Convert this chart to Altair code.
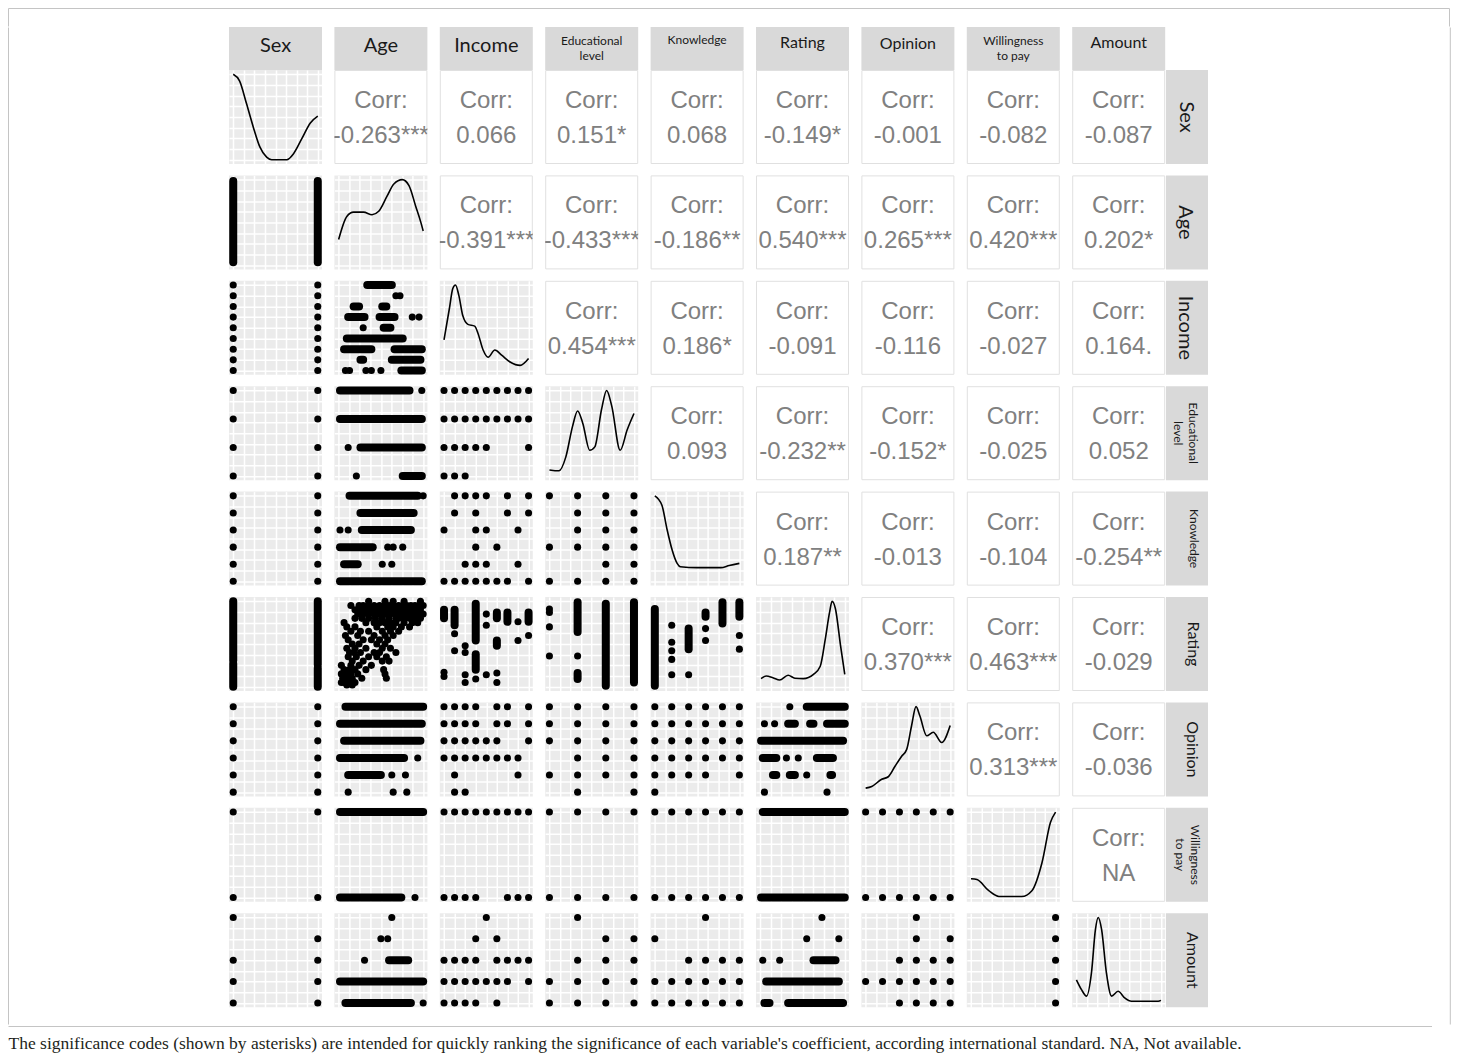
import altair as alt
import pandas as pd

# ---------------- data ----------------
VARS = ["Sex", "Age", "Income", "Educational level", "Knowledge",
        "Rating", "Opinion", "Willingness to pay", "Amount"]
RANGES = {"Sex": (1, 2), "Age": (18, 80), "Income": (1, 9), "Educational level": (1, 4),
          "Knowledge": (1, 6), "Rating": (0, 100), "Opinion": (1, 6),
          "Willingness to pay": (0, 1), "Amount": (1, 5)}

STRIP_LABELS = ["Sex", "Age", "Income", "Educational\nlevel", "Knowledge",
                "Rating", "Opinion", "Willingness\nto pay", "Amount"]
STRIP_SIZES = [20, 20, 20, 12, 12, 16, 16, 12, 16]

CORR_VALUES = [
    ["-0.263***", "0.066", "0.151*", "0.068", "-0.149*", "-0.001", "-0.082", "-0.087"],
    ["-0.391***", "-0.433***", "-0.186**", "0.540***", "0.265***", "0.420***", "0.202*"],
    ["0.454***", "0.186*", "-0.091", "-0.116", "-0.027", "0.164."],
    ["0.093", "-0.232**", "-0.152*", "-0.025", "0.052"],
    ["0.187**", "-0.013", "-0.104", "-0.254**"],
    ["0.370***", "0.463***", "-0.029"],
    ["0.313***", "-0.036"],
    ["NA"],
]

# density curves (x in variable units, y relative to the maximum)
DENS_X = {
    "Sex": [1.0, 1.076, 1.156, 1.235, 1.315, 1.395, 1.455, 1.55, 1.634, 1.713, 1.813, 1.912, 2.0],
    "Age": [18, 24, 28.9, 36.3, 42.5, 47.4, 53.6, 58.5, 64.7, 69.6, 74.5, 78.3, 80],
    "Income": [1, 1.5, 1.83, 2.08, 2.4, 2.78, 3.26, 3.9, 4.2, 4.7, 5.17, 5.81, 6.45, 7.25, 8.2, 9.0],
    "Educational level": [1.0, 1.34, 1.58, 1.82, 2.0, 2.18, 2.43, 2.61, 2.85, 3.03, 3.21, 3.51, 3.76, 4.0],
    "Knowledge": [1.0, 1.42, 1.72, 2.02, 2.32, 2.51, 3.5, 4.5, 4.9, 5.4, 6.0],
    "Rating": [1, 7, 15, 23, 33, 41, 51, 63, 71, 77, 82, 85, 89, 95, 100],
    "Opinion": [1, 1.36, 1.95, 2.34, 2.73, 3.13, 3.43, 3.72, 3.98, 4.21, 4.61, 5.0, 5.5, 6.0],
    "Willingness to pay": [0, 0.07, 0.21, 0.33, 0.60, 0.72, 0.84, 0.94, 1.0],
    "Amount": [1, 1.24, 1.48, 1.71, 1.9, 2.03, 2.19, 2.42, 2.66, 2.97, 3.29, 3.6, 4.39, 4.87, 5.0],
}
DENS_Y = {
    "Sex": [1.0, 0.92, 0.66, 0.39, 0.15, 0.03, 0.0, 0.0, 0.0, 0.07, 0.25, 0.43, 0.51],
    "Age": [0.30, 0.57, 0.62, 0.62, 0.59, 0.63, 0.81, 0.95, 1.0, 0.93, 0.69, 0.50, 0.40],
    "Income": [0.36, 0.72, 0.96, 1.0, 0.88, 0.64, 0.54, 0.52, 0.44, 0.24, 0.155, 0.24, 0.18, 0.10, 0.06, 0.14],
    "Educational level": [0.07, 0.06, 0.22, 0.58, 0.76, 0.62, 0.30, 0.34, 0.78, 1.0, 0.82, 0.30, 0.54, 0.73],
    "Knowledge": [1.0, 0.89, 0.61, 0.37, 0.21, 0.17, 0.16, 0.16, 0.16, 0.185, 0.21],
    "Rating": [0.095, 0.125, 0.106, 0.078, 0.134, 0.10, 0.095, 0.145, 0.24, 0.56, 0.87, 1.0, 0.91, 0.48, 0.145],
    "Opinion": [0.047, 0.066, 0.15, 0.18, 0.30, 0.42, 0.50, 0.78, 1.0, 0.89, 0.66, 0.70, 0.58, 0.78],
    "Willingness to pay": [0.22, 0.21, 0.08, 0.012, 0.012, 0.08, 0.41, 0.88, 1.0],
    "Amount": [0.27, 0.155, 0.08, 0.35, 0.86, 1.0, 0.86, 0.35, 0.08, 0.136, 0.058, 0.02, 0.02, 0.02, 0.03],
}

ALL9 = [1, 2, 3, 4, 5, 6, 7, 8, 9]
ALL6 = [1, 2, 3, 4, 5, 6]
ALL4 = [1, 2, 3, 4]
BOTH = [1, 2]

# horizontal rows: (row variable, column variable) -> {y level: [x value or [x from, x to]]}
LOWER_H = {
    ("Income", "Sex"): {k: BOTH for k in ALL9},
    ("Income", "Age"): {9: [[39, 57]], 8: [60, 63], 7: [[29, 33], [50, 53]],
                        6: [[25, 37], [48, 59], 72, 77], 5: [36, [51, 56]], 4: [[24, 65]],
                        3: [[22, 42], [59, 79]], 2: [[34, 36], [57, 78]],
                        1: [23, 26, 38, 42, 49, [64, 79]]},
    ("Educational level", "Sex"): {k: BOTH for k in ALL4},
    ("Educational level", "Age"): {4: [[19, 70], 79], 3: [[19, 79]], 2: [25, [34, 79]], 1: [31, [65, 79]]},
    ("Educational level", "Income"): {4: ALL9, 3: ALL9, 2: [1, 2, 3, 4, 5, 9], 1: [1, 2, 3]},
    ("Knowledge", "Sex"): {k: BOTH for k in ALL6},
    ("Knowledge", "Age"): {6: [[26, 76], 80], 5: [[34, 73]], 4: [19, 25, [35, 71]],
                           3: [[19, 43], 54, 58, 65], 2: [[22, 32], 50, 57], 1: [[19, 79]]},
    ("Knowledge", "Income"): {6: [2, 3, 4, 5, 7, 9], 5: [2, 4, 7, 9], 4: [1, 4, 5, 8], 3: [4, 6],
                              2: [3, 4, 5, 8], 1: [1, 2, 3, 4, 5, 6, 7, 9]},
    ("Knowledge", "Educational level"): {6: ALL4, 5: [2, 3, 4], 4: [2, 3, 4], 3: ALL4, 2: [3, 4], 1: ALL4},
    ("Opinion", "Sex"): {k: BOTH for k in ALL6},
    ("Opinion", "Age"): {6: [[23, 80]], 5: [[19, 79]], 4: [[22, 78]], 3: [[19, 66], 76],
                         2: [[25, 49], 57, 67], 1: [25, 58, 68]},
    ("Opinion", "Income"): {6: [1, 2, 3, 4, 6, 7, 9], 5: [1, 2, 3, 4, 6, 7, 9], 4: [1, 2, 3, 4, 5, 6, 9],
                            3: [1, 2, 3, 4, 5, 6, 7, 8], 2: [2, 8], 1: [2, 3]},
    ("Opinion", "Educational level"): {6: ALL4, 5: ALL4, 4: ALL4, 3: [2, 3, 4], 2: ALL4, 1: [2, 4]},
    ("Opinion", "Knowledge"): {6: ALL6, 5: ALL6, 4: ALL6, 3: ALL6, 2: [1, 2, 3, 4, 6], 1: [1]},
    ("Opinion", "Rating"): {6: [35, [55, 100]], 5: [5, 17, [33, 41], [59, 63], [79, 100]], 4: [[1, 98]],
                            3: [[3, 19], 31, 45, [67, 86]], 2: [[15, 19], [35, 41], 55, [83, 85]], 1: [5, 79]},
    ("Willingness to pay", "Sex"): {1: BOTH, 0: BOTH},
    ("Willingness to pay", "Age"): {1: [[19, 80]], 0: [[19, 64], 74]},
    ("Willingness to pay", "Income"): {1: ALL9, 0: [1, 2, 3, 4, 7, 8, 9]},
    ("Willingness to pay", "Educational level"): {1: ALL4, 0: ALL4},
    ("Willingness to pay", "Knowledge"): {1: ALL6, 0: ALL6},
    ("Willingness to pay", "Rating"): {1: [[3, 100]], 0: [[1, 100]]},
    ("Willingness to pay", "Opinion"): {1: ALL6, 0: ALL6},
    ("Amount", "Sex"): {5: [1], 4: [2], 3: BOTH, 2: BOTH, 1: BOTH},
    ("Amount", "Age"): {5: [57], 4: [49, 54], 3: [37, [55, 69]], 2: [[19, 80]], 1: [[23, 71], 80]},
    ("Amount", "Income"): {5: [5], 4: [4, 6], 3: [1, 2, 3, 4, 6, 7, 8, 9], 2: [1, 2, 3, 4, 5, 6, 7, 9],
                           1: [1, 2, 3, 4, 6]},
    ("Amount", "Educational level"): {5: [2], 4: [3, 4], 3: [2, 3, 4], 2: ALL4, 1: ALL4},
    ("Amount", "Knowledge"): {5: [4], 4: [1], 3: [3, 4, 5, 6], 2: ALL6, 1: ALL6},
    ("Amount", "Rating"): {5: [73], 4: [55, 93], 3: [3, 23, [63, 89]], 2: [[7, 93]], 1: [[5, 11], [33, 98]]},
    ("Amount", "Opinion"): {5: [4], 4: [4, 6], 3: [3, 4, 5, 6], 2: ALL6, 1: [3, 4, 5, 6]},
    ("Amount", "Willingness to pay"): {5: [1], 4: [1], 3: [1], 2: [1], 1: [1]},
}

# vertical columns: (row variable, column variable) -> {x level: [y value or [y from, y to]]}
LOWER_V = {
    ("Age", "Sex"): {1: [[20, 79]], 2: [[20, 79]]},
    ("Rating", "Sex"): {1: [[0, 27], [31, 100]], 2: [[0, 22], [26, 100]]},
    ("Rating", "Income"): {1: [[80, 90], 12, 17], 2: [[72, 90], 62, 42], 3: [48, 40, 14, 5],
                           4: [[54, 97], [20, 38], 9], 5: [85, 72, 14], 6: [[80, 87], [48, 54], 16, 5],
                           7: [[76, 87]], 8: [76, 54], 9: [[76, 87], 60]},
    ("Rating", "Educational level"): {1: [91, 87, 70, 36], 2: [[64, 99], 36, [9, 16]], 3: [[1, 97]], 4: [[5, 99]]},
    ("Rating", "Knowledge"): {1: [[1, 91]], 2: [72, 52, 42, 32, 14], 3: [[44, 68], 14],
                              4: [[82, 87], 68, 54], 5: [[74, 99]], 6: [[82, 99], 60, 44]},
}

# Rating (y) against Age (x): rating level -> ages
RATING_AGE = {
    100: [40, 52, 58, 66, 78],
    95: [27, 33, 36, 40, 44, 48, 52, 55, 58, 62, 65, 68, 71, 74, 77, 80],
    90: [30, 34, 38, 42, 46, 50, 54, 57, 60, 63, 66, 69, 72, 75, 78],
    85: [32, 36, 40, 44, 48, 52, 56, 60, 64, 68, 72, 76, 80],
    80: [30, 35, 40, 45, 50, 55, 60, 62, 66, 70, 74, 78],
    75: [22, 38, 44, 48, 52, 56, 60, 66, 72, 76],
    70: [24, 30, 46, 54, 58, 64, 70],
    65: [27, 34, 40, 50, 56, 62],
    60: [23, 32, 44, 52, 58],
    55: [25, 36, 42, 48, 54],
    50: [28, 33, 46, 52],
    45: [24, 30, 38, 50, 56],
    40: [26, 29, 34, 44, 48, 60],
    35: [25, 31, 40, 46, 53],
    30: [28, 36, 50, 55],
    25: [20, 27, 33, 42],
    20: [22, 26, 30, 38, 51],
    15: [20, 23, 27, 32, 52],
    10: [21, 24, 28, 35, 53],
    5: [20, 22, 26, 30],
    2: [24, 28],
}

CAPTION = ("The significance codes (shown by asterisks) are intended for quickly ranking the significance "
           "of each variable's coefficient, according international standard. NA, Not available.")

# ---------------- style ----------------
W, H = 93, 94
HSP, VSP = 12.4, 11.4
STRIP_H, STRIP_W = 43, 42
PANEL_BG = "#EBEBEB"
DOT = 50
SEG_W = 8
TXT_GRAY = "#808080"
FRAME = "#C4C4C4"
LH = 15
TOP_TEXT_Y = [19, 19, 19, 13.5, 13, 16, 17, 14, 16]      # first-line centre inside the top strips
RIGHT_TEXT_X = [20, 19, 19, 27, 28, 27, 26, 29, 26]      # first-line centre inside the right strips


def view(fill="white"):
    return alt.ViewBackground(fill=fill, strokeWidth=0)


def sc(var):
    a, b = RANGES[var]
    p = 0.05 * (b - a)
    return alt.Scale(domain=[a - p, b + p], nice=False, zero=False)


def grid_axis(vals):
    return alt.Axis(values=vals, grid=True, gridColor="white", gridWidth=1.5, domain=False,
                    ticks=False, labels=False, title=None)


def gvals(var):
    a, b = RANGES[var]
    return [a + (b - a) * k / 8 for k in range(9)]


def lower_panel(rv, cv):
    dots, hs, vs = [], [], []
    if (rv, cv) in LOWER_H:
        for lvl, items in LOWER_H[(rv, cv)].items():
            for it in items:
                if isinstance(it, list):
                    hs.append({"x": it[0], "x2": it[1], "y": lvl})
                else:
                    dots.append({"x": it, "y": lvl})
    if (rv, cv) in LOWER_V:
        for lvl, items in LOWER_V[(rv, cv)].items():
            for it in items:
                if isinstance(it, list):
                    vs.append({"x": lvl, "y": it[0], "y2": it[1]})
                else:
                    dots.append({"x": lvl, "y": it})
    if (rv, cv) == ("Rating", "Age"):
        for r, ages in RATING_AGE.items():
            for a in ages:
                dots.append({"x": a, "y": r})
    X = alt.X("x:Q", scale=sc(cv), axis=grid_axis(gvals(cv)))
    Y = alt.Y("y:Q", scale=sc(rv), axis=grid_axis(gvals(rv)))
    layers = []
    if hs:
        layers.append(alt.Chart(pd.DataFrame(hs)).mark_rule(color="black", strokeWidth=SEG_W, strokeCap="round")
                      .encode(x=X, x2="x2:Q", y=Y))
    if vs:
        layers.append(alt.Chart(pd.DataFrame(vs)).mark_rule(color="black", strokeWidth=SEG_W, strokeCap="round")
                      .encode(x=X, y=Y, y2="y2:Q"))
    if dots:
        layers.append(alt.Chart(pd.DataFrame(dots)).mark_circle(color="black", size=DOT, opacity=1)
                      .encode(x=X, y=Y))
    return alt.layer(*layers).properties(width=W, height=H, view=view(PANEL_BG))


def diag_panel(v):
    df = pd.DataFrame({"x": DENS_X[v], "y": DENS_Y[v]})
    return alt.Chart(df).mark_line(color="black", strokeWidth=1.6, interpolate="monotone").encode(
        x=alt.X("x:Q", scale=sc(v), axis=grid_axis(gvals(v))),
        y=alt.Y("y:Q", scale=alt.Scale(domain=[-0.05, 1.05], nice=False, zero=False),
                axis=grid_axis([k / 8 for k in range(9)])),
    ).properties(width=W, height=H, view=view(PANEL_BG))


def upper_panel(txt):
    df = pd.DataFrame({"t": ["Corr:\n" + txt]})
    border = alt.Chart(df).mark_rect(fillOpacity=0, stroke="#E0E0E0", strokeWidth=1).encode(
        x=alt.value(0.5), x2=alt.value(W - 0.5), y=alt.value(0.5), y2=alt.value(H - 0.5))
    text = alt.Chart(df).mark_text(font="Liberation Sans", fontSize=24, color=TXT_GRAY, lineBreak="\n",
                                   lineHeight=35, align="center", baseline="middle", clip=True).encode(
        text="t:N", x=alt.value(W / 2), y=alt.value(31))
    return alt.layer(border, text).properties(width=W, height=H, view=view("white"))


def top_strip(i):
    df = pd.DataFrame({"t": [STRIP_LABELS[i]]})
    return alt.Chart(df).mark_text(font="Lato", fontSize=STRIP_SIZES[i], color="#1A1A1A", lineBreak="\n",
                                   lineHeight=LH, align="center", baseline="middle").encode(
        text="t:N", x=alt.value(W / 2), y=alt.value(TOP_TEXT_Y[i])
    ).properties(width=W, height=STRIP_H, view=view("#D9D9D9"))


def right_strip(i):
    df = pd.DataFrame({"t": [STRIP_LABELS[i]]})
    return alt.Chart(df).mark_text(font="Lato", fontSize=STRIP_SIZES[i], color="#1A1A1A", lineBreak="\n",
                                   lineHeight=LH, align="center", baseline="middle", angle=90).encode(
        text="t:N", x=alt.value(RIGHT_TEXT_X[i]), y=alt.value(H / 2)
    ).properties(width=STRIP_W, height=H, view=view("#D9D9D9"))


def hcat(charts, spacing):
    return alt.hconcat(*charts, spacing=spacing).resolve_scale(x="independent", y="independent")


def vcat(charts, spacing):
    return alt.vconcat(*charts, spacing=spacing).resolve_scale(x="independent", y="independent")


rows = []
for i, rv in enumerate(VARS):
    panels = []
    for j, cv in enumerate(VARS):
        if i == j:
            panels.append(diag_panel(rv))
        elif j > i:
            panels.append(upper_panel(CORR_VALUES[i][j - i - 1]))
        else:
            panels.append(lower_panel(rv, cv))
    rows.append(hcat([hcat(panels, HSP), right_strip(i)], 0))

top_row = hcat([top_strip(i) for i in range(9)], HSP)
grid = vcat([top_row, vcat(rows, VSP)], 0)

GRID_W = 9 * W + 8 * HSP + STRIP_W
LEFT_W = 221
TOTAL_W = 1442
TOP_H = 19
MID_H = 998
RIGHT_W = TOTAL_W - LEFT_W - GRID_W

one = pd.DataFrame({"a": [0]})

top_line = alt.layer(
    alt.Chart(one).mark_rule(color=FRAME, strokeWidth=1).encode(x=alt.value(0.5), x2=alt.value(TOTAL_W - 0.5), y=alt.value(0.5)),
    alt.Chart(one).mark_rule(color=FRAME, strokeWidth=1).encode(x=alt.value(0.5), y=alt.value(0.5), y2=alt.value(TOP_H - 0.5)),
    alt.Chart(one).mark_rule(color=FRAME, strokeWidth=1).encode(x=alt.value(TOTAL_W - 0.5), y=alt.value(0.5), y2=alt.value(TOP_H - 0.5)),
).properties(width=TOTAL_W, height=TOP_H, view=view())

left_pad = alt.Chart(one).mark_rule(color=FRAME, strokeWidth=1).encode(
    x=alt.value(0.5), y=alt.value(0.5), y2=alt.value(MID_H - 0.5)
).properties(width=LEFT_W, height=MID_H, view=view())

right_pad = alt.Chart(one).mark_rule(color=FRAME, strokeWidth=1).encode(
    x=alt.value(RIGHT_W - 0.5), y=alt.value(0.5), y2=alt.value(MID_H - 0.5)
).properties(width=RIGHT_W, height=MID_H, view=view())

middle = hcat([left_pad, grid, right_pad], 0)

caption = alt.layer(
    alt.Chart(one).mark_rule(color=FRAME, strokeWidth=1).encode(x=alt.value(0.5), x2=alt.value(TOTAL_W - 18), y=alt.value(1.5)),
    alt.Chart(pd.DataFrame({"t": [CAPTION]})).mark_text(font="Liberation Serif", fontSize=17.5, color="#231F20",
                                                       align="left", baseline="alphabetic").encode(
        text="t:N", x=alt.value(0.5), y=alt.value(24)),
).properties(width=TOTAL_W, height=27, view=view())

chart = alt.vconcat(top_line, middle, caption, spacing=0, padding=0).resolve_scale(
    x="independent", y="independent").configure_view(strokeWidth=0)

chart.save("out.html", embed_options={"renderer": "svg", "actions": False})
